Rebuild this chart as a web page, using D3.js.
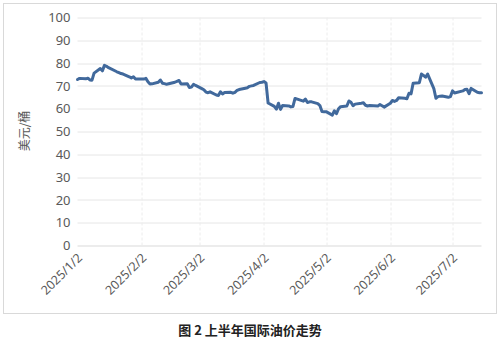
<!DOCTYPE html>
<html>
<head>
<meta charset="utf-8">
<script src="https://cdn.jsdelivr.net/npm/d3@7"></script>
<style>
  body { margin: 0; background: #fff; }
  svg text { font-family: "Noto Sans", "Noto Sans CJK SC", sans-serif; }
</style>
</head>
<body>
<div id="chart"></div>
<script>
// trading days and prices (美元/桶)
var dates = [
  "2025-01-02","2025-01-03","2025-01-06","2025-01-07","2025-01-08","2025-01-09","2025-01-10",
  "2025-01-13","2025-01-14","2025-01-15","2025-01-16","2025-01-17","2025-01-21","2025-01-22",
  "2025-01-23","2025-01-24","2025-01-27","2025-01-28","2025-01-29","2025-01-30","2025-01-31",
  "2025-02-03","2025-02-04","2025-02-05","2025-02-06","2025-02-07","2025-02-10","2025-02-11",
  "2025-02-12","2025-02-13","2025-02-14","2025-02-18","2025-02-19","2025-02-20","2025-02-21",
  "2025-02-24","2025-02-25","2025-02-26","2025-02-27","2025-02-28",
  "2025-03-03","2025-03-04","2025-03-05","2025-03-06","2025-03-07","2025-03-10","2025-03-11",
  "2025-03-12","2025-03-13","2025-03-14","2025-03-17","2025-03-18","2025-03-19","2025-03-20",
  "2025-03-21","2025-03-24","2025-03-25","2025-03-26","2025-03-27","2025-03-28","2025-03-31",
  "2025-04-01","2025-04-02","2025-04-03","2025-04-04","2025-04-07","2025-04-08","2025-04-09",
  "2025-04-10","2025-04-11","2025-04-14","2025-04-15","2025-04-16","2025-04-17","2025-04-21",
  "2025-04-22","2025-04-23","2025-04-24","2025-04-25","2025-04-28","2025-04-29","2025-04-30",
  "2025-05-01","2025-05-02","2025-05-05","2025-05-06","2025-05-07","2025-05-08","2025-05-09",
  "2025-05-12","2025-05-13","2025-05-14","2025-05-15","2025-05-16","2025-05-19","2025-05-20",
  "2025-05-21","2025-05-22","2025-05-23","2025-05-27","2025-05-28","2025-05-29","2025-05-30",
  "2025-06-02","2025-06-03","2025-06-04","2025-06-05","2025-06-06","2025-06-09","2025-06-10",
  "2025-06-11","2025-06-12","2025-06-13","2025-06-16","2025-06-17","2025-06-18","2025-06-19",
  "2025-06-20","2025-06-23","2025-06-24","2025-06-25","2025-06-26","2025-06-27","2025-06-30",
  "2025-07-01","2025-07-02","2025-07-03","2025-07-07","2025-07-08","2025-07-09","2025-07-10",
  "2025-07-11","2025-07-14","2025-07-15","2025-07-16"
];
var prices = [
  72.8,73.3,73.1,73.4,72.6,72.5,75.6,
  77.6,76.6,79.0,78.6,78.0,76.2,75.8,
  75.4,75.2,74.0,73.5,74.0,73.0,73.0,
  73.0,73.3,71.8,70.8,70.9,71.6,72.6,
  71.2,71.0,70.7,71.6,72.0,72.4,70.8,
  70.9,69.3,69.5,70.7,70.2,
  68.8,68.3,67.3,67.0,67.4,66.0,65.8,
  67.4,66.5,67.1,67.2,66.8,67.2,68.0,
  68.4,69.0,69.2,69.8,70.0,70.2,71.5,
  71.6,71.9,71.3,62.5,61.0,59.8,62.4,
  59.7,61.4,61.2,60.8,61.0,64.5,63.3,
  64.2,62.7,63.0,63.0,62.2,61.4,58.8,
  58.7,58.7,57.2,59.1,57.8,60.0,60.9,
  61.2,63.4,62.8,61.3,62.0,62.4,62.6,
  61.5,61.2,61.4,61.2,61.8,61.3,60.7,
  62.4,63.6,63.2,63.6,64.8,64.6,64.4,
  66.8,66.5,71.2,71.4,75.2,74.6,73.8,
  75.2,68.8,64.6,65.3,65.5,65.6,65.0,
  65.3,67.8,66.9,67.8,68.4,68.5,66.6,
  68.9,67.2,67.0,67.0
];
var xTicks = ["2025-01-02","2025-02-02","2025-03-02","2025-04-02","2025-05-02","2025-06-02","2025-07-02"];
var yTicks = [0,10,20,30,40,50,60,70,80,90,100];
var yLabel = "美元/桶";
var title = "图 2 上半年国际油价走势";

var W = 500, H = 340;
var margin = {top: 17.5, right: 18.5, bottom: 94.5, left: 77.5};
var width = W - margin.left - margin.right,
    height = H - margin.top - margin.bottom;

var parseDate = d3.timeParse("%Y-%m-%d");
var data = dates.map(function(d, i) { return {date: parseDate(d), value: prices[i]}; });

var svg = d3.select("#chart").append("svg")
  .attr("width", W)
  .attr("height", H);

// outer frame
svg.append("rect")
  .attr("x", 3.5).attr("y", 3.5)
  .attr("width", 493).attr("height", 310)
  .attr("fill", "none")
  .attr("stroke", "#d9d9d9");

var g = svg.append("g")
  .attr("transform", "translate(" + margin.left + "," + margin.top + ")");

var x = d3.scaleTime()
  .domain(d3.extent(data, function(d) { return d.date; }))
  .range([0, width]);
var y = d3.scaleLinear()
  .domain([0, 100])
  .range([height, 0]);

// horizontal grid
g.append("g").selectAll("line").data(yTicks).enter()
  .append("line")
  .attr("x1", 0).attr("x2", width)
  .attr("y1", function(d) { return Math.round(y(d)) + 0.5; })
  .attr("y2", function(d) { return Math.round(y(d)) + 0.5; })
  .attr("stroke", function(d) { return d === 0 ? "#d9d9d9" : "#e6e6e6"; })
  .attr("stroke-width", 1);

// vertical dashed grid
g.append("g").selectAll("line").data(xTicks.slice(1)).enter()
  .append("line")
  .attr("x1", function(d) { return Math.round(x(parseDate(d))) + 0.5; })
  .attr("x2", function(d) { return Math.round(x(parseDate(d))) + 0.5; })
  .attr("y1", 0).attr("y2", height)
  .attr("stroke", "#ececec")
  .attr("stroke-dasharray", "3,2");

// y axis
var yAxis = d3.axisLeft(y).tickValues(yTicks).tickSize(0).tickPadding(7);
var yG = g.append("g").call(yAxis);
yG.select(".domain").remove();
yG.selectAll("text")
  .attr("fill", "#595959")
  .style("font-size", "13px");

// x axis
var xAxis = d3.axisBottom(x)
  .tickValues(xTicks.map(parseDate))
  .tickFormat(d3.timeFormat("%Y/%-m/%-d"))
  .tickSize(0);
var xG = g.append("g")
  .attr("transform", "translate(0," + height + ")")
  .call(xAxis);
xG.select(".domain").remove();
xG.selectAll("text")
  .attr("fill", "#595959")
  .style("font-size", "12.5px")
  .style("text-anchor", "end")
  .attr("dy", 0)
  .attr("dx", 0)
  .attr("transform", "translate(3,11) rotate(-45)");

// y label
svg.append("text")
  .attr("transform", "translate(29,131) rotate(-90)")
  .attr("text-anchor", "middle")
  .attr("fill", "#595959")
  .style("font-size", "12px")
  .style("font-family", "'Noto Sans CJK SC', sans-serif")
  .text(yLabel);

// price line
var line = d3.line()
  .x(function(d) { return x(d.date); })
  .y(function(d) { return y(d.value); });

g.append("path")
  .datum(data)
  .attr("d", line)
  .attr("fill", "none")
  .attr("stroke", "#41699c")
  .attr("stroke-width", 3)
  .attr("stroke-linejoin", "round")
  .attr("stroke-linecap", "round");

// caption
svg.append("text")
  .attr("x", 250).attr("y", 335)
  .attr("text-anchor", "middle")
  .attr("fill", "#222")
  .style("font-size", "13px")
  .style("font-weight", "bold")
  .style("font-family", "'Noto Sans CJK SC', sans-serif")
  .text(title);
</script>
</body>
</html>
